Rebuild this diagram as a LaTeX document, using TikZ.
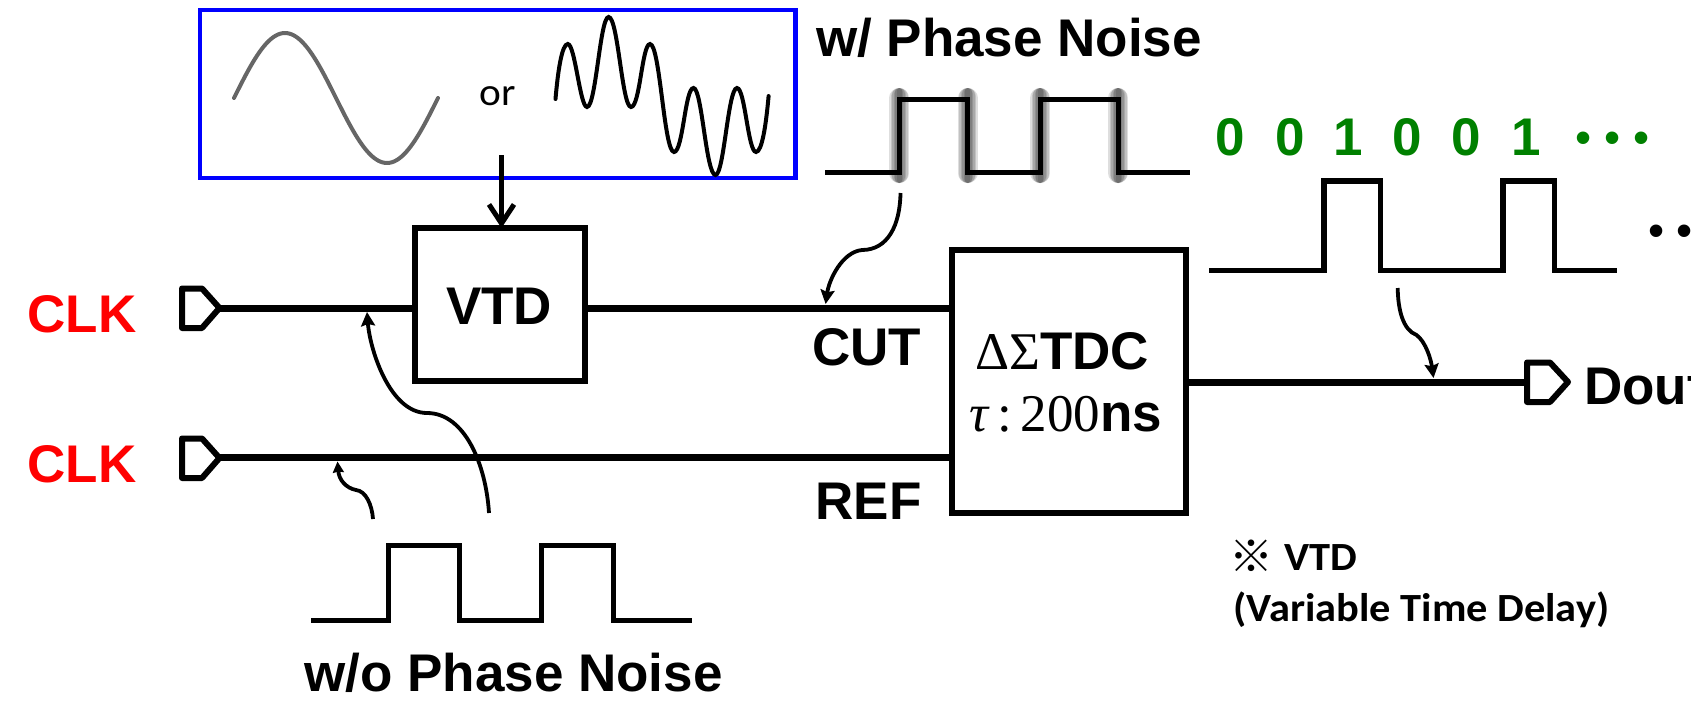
\documentclass[tikz,border=0pt]{standalone}
\usepackage{fontspec}
\setmainfont{Liberation Sans}
\newfontfamily\serifgr{Liberation Serif}
\newfontfamily\calib{Carlito}[FakeStretch=1.06]
\newfontfamily\cjkf{Noto Sans CJK JP}
\usetikzlibrary{arrows.meta}
\definecolor{wavegray}{RGB}{102,102,102}
\definecolor{bitgreen}{RGB}{0,128,0}
\definecolor{frameblue}{RGB}{0,0,255}
\tikzset{
  lab/.style={font=\fontsize{53}{60}\selectfont\bfseries,inner sep=0pt,outer sep=0pt,anchor=base},
  clklab/.style={lab,text=red},
  bit/.style={lab,text=bitgreen},
  dotrow/.style={font=\fontsize{46}{50}\selectfont,inner sep=0pt,outer sep=0pt,anchor=base},
  note/.style={font=\calib\fontsize{40}{46}\selectfont\bfseries,inner sep=0pt,anchor=base west},
  block/.style={draw,line width=6pt,inner sep=0pt,outer sep=0pt,line join=miter},
  wire/.style={line width=7pt},
  port/.style={line width=6pt,line join=round},
  pulse/.style={line width=5pt,line join=miter},
  curvy/.style={line width=3.8pt,-{Stealth[length=14pt,width=14pt,inset=2pt]}},
  curvysmall/.style={line width=3.8pt,-{Stealth[length=11pt,width=11pt,inset=1pt]}},
  blur/.style={line width=#1,black,opacity=0.13,line cap=round}
}
\begin{document}
\begin{tikzpicture}[x=1pt,y=-1pt]
\useasboundingbox (0,0) rectangle (1691,702);
% input frame
\node[draw=frameblue,line width=4.5pt,inner sep=0pt,outer sep=0pt,minimum width=595.5pt,minimum height=168pt] (frame) at (497.5,94) {};
% sine
\draw[wavegray,line width=4pt,line cap=round,domain=0:360,samples=90,smooth,variable=\t] plot ({234+\t/360*204},{98-65*sin(\t)});
\node[font=\calib\fontsize{39}{46}\selectfont,inner sep=0pt,anchor=base] (ortext) at (497.5,105.5) {or};
% noisy wave
\draw[line width=4pt,line cap=round]
 (555.5,99) .. controls (558,70) and (562,44) .. (567.8,44)
 .. controls (575,44) and (580,107) .. (587,107)
 .. controls (596,107) and (600,17) .. (608.6,17)
 .. controls (618,17) and (622,107) .. (631,107)
 .. controls (640,107) and (642,44) .. (650,44)
 .. controls (660,44) and (664,152) .. (674,152)
 .. controls (683,152) and (685,88) .. (693.5,88)
 .. controls (702,88) and (706,175) .. (715.5,175)
 .. controls (724,175) and (728,88) .. (737,88)
 .. controls (745,88) and (748,152) .. (756,152)
 .. controls (762,152) and (766,125) .. (768.6,96);
% blocks
\node[block,minimum width=170pt,minimum height=153pt] (vtd) at (500,304.5) {};
\node[lab] (vtdtext) at (499,324) {VTD};
\node[block,minimum width=234pt,minimum height=263pt] (tdc) at (1069,381.5) {};
\node[lab] (tdctext) at (1062,369) {{\serifgr\mdseries ΔΣ}TDC};
\node[lab] (tautext) at (1066,431.7) {{\serifgr\mdseries\itshape τ}{\serifgr\mdseries\,:\,200}ns};
% feedback arrow from frame
\coordinate (fr) at (501.5,155);
\draw[line width=5pt,-{Straight Barb[length=19pt,width=25pt]}] (fr) -- (fr |- vtd.north);
% clock ports
\draw[port] (182,288.5) -- (202,288.5) -- (219.5,308) -- (202,328) -- (182,328) -- cycle;
\draw[port] (182,438.5) -- (202,438.5) -- (219.5,458) -- (202,478) -- (182,478) -- cycle;
\coordinate (p1) at (219.5,308);
\coordinate (p2) at (219.5,457.5);
\draw[wire] (p1) -- (vtd.west |- p1);
\draw[wire] (vtd.east |- p1) -- (tdc.west |- p1);
\draw[wire] (p2) -- (tdc.west |- p2);
\node[clklab] (clka) at (82,332) {CLK};
\node[clklab] (clkb) at (82,482) {CLK};
\node[lab] (cut) at (866.5,365) {CUT};
\node[lab] (ref) at (868.7,519) {REF};
% output
\coordinate (p3) at (1527,382);
\draw[wire] (tdc.east |- p3) -- (p3);
\draw[port] (1527,362.5) -- (1550,362.5) -- (1568,382) -- (1550,402) -- (1527,402) -- cycle;
\node[lab,anchor=base west] (dout) at (1584,404) {Dout};
% w/ phase noise pulses
\foreach \xx in {899.4,967.6,1040,1118}{
  \foreach \ww/\ee in {20pt/1,17pt/2.5,14pt/4,11pt/5.5,8pt/7,5pt/8.5}{
    \draw[blur=\ww] (\xx,99-\ee) -- (\xx,172+\ee);
  }
}
\draw[pulse] (825,172) -- (899.4,172) -- (899.4,99) -- (967.6,99) -- (967.6,172) -- (1040,172) -- (1040,99) -- (1118,99) -- (1118,172) -- (1190,172);
\node[lab] (wpn) at (1009,56) {w/ Phase Noise};
% bits
\node[bit] (b1) at (1230,155) {0};
\node[bit] (b2) at (1290,155) {0};
\node[bit] (b3) at (1348,155) {1};
\node[bit] (b4) at (1407,155) {0};
\node[bit] (b5) at (1466,155) {0};
\node[bit] (b6) at (1526,155) {1};
\node[dotrow,text=bitgreen] (bdots) at (1612.5,153.7) {•\hspace{12.5pt}•\hspace{12.5pt}•};
% digital pulses
\draw[pulse,line width=5.5pt] (1209,270.7) -- (1324,270.7) -- (1324,181) -- (1380.7,181) -- (1380.7,270.7) -- (1503,270.7) -- (1503,181) -- (1554.5,181) -- (1554.5,270.7) -- (1616.5,270.7);
\node[dotrow,anchor=base west] (odots) at (1648,246.7) {•\hspace{12.5pt}•\hspace{12.5pt}•};
% w/o phase noise pulses
\draw[pulse] (311,620) -- (388,620) -- (388,545) -- (459,545) -- (459,620) -- (541,620) -- (541,545) -- (613,545) -- (613,620) -- (692,620);
\node[lab] (wopn) at (513.5,691.7) {w/o Phase Noise};
% curvy arrows
\coordinate (c1s) at (900.5,193); \coordinate (c1e) at (825.6,304);
\draw[curvy] (c1s) .. controls (900,225) and (888,250) .. (862,250) .. controls (842,252) and (829,280) .. (c1e);
\coordinate (c2s) at (1397.7,288); \coordinate (c2e) at (1433.5,378);
\draw[curvy] (c2s) .. controls (1398,310) and (1403,330) .. (1416.5,335) .. controls (1426,342) and (1431,360) .. (c2e);
\coordinate (c3s) at (489,513); \coordinate (c3e) at (367,312);
\draw[curvy] (c3s) .. controls (486,465) and (465,413) .. (427,413) .. controls (390,413) and (370,350) .. (c3e);
\coordinate (c4s) at (373,519); \coordinate (c4e) at (337.5,461.5);
\draw[curvysmall] (c4s) .. controls (372,505) and (366,491) .. (356,490) .. controls (346,488) and (339,480) .. (c4e);
% note
\node[font=\cjkf\fontsize{44}{48}\selectfont\bfseries,inner sep=0pt,anchor=base west] (kome) at (1229,572) {※};
\node[note] (notea) at (1284,570.7) {VTD};
\node[note] (noteb) at (1233,621) {(Variable Time Delay)};
\end{tikzpicture}
\end{document}
